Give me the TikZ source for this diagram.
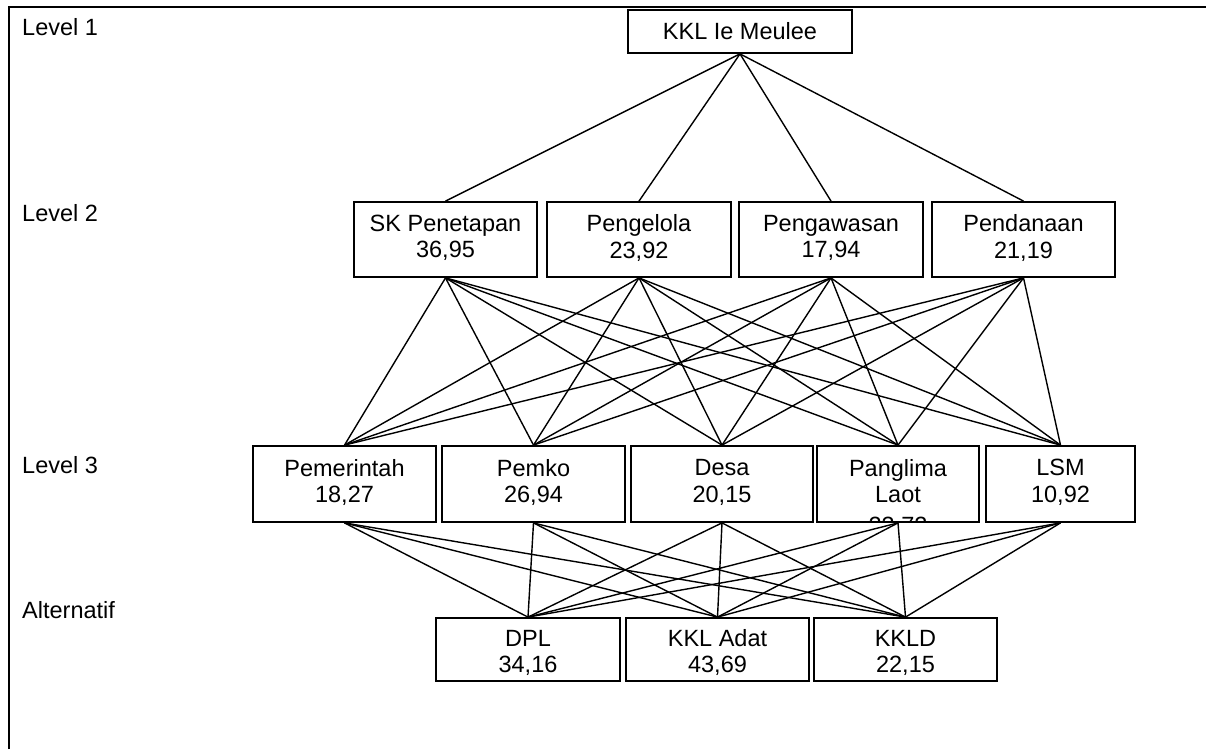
\documentclass[tikz,border=0pt]{standalone}
\usepackage{fontspec}
\setmainfont{Liberation Sans}
\newcommand\tallstrut{\rule{0pt}{23pt}}
\begin{document}
\begin{tikzpicture}[x=1pt,y=-1pt,
  txt/.style={font=\fontsize{23.5}{26.5}\selectfont},
  box/.style={txt, draw, line width=1.8pt, rectangle, inner sep=0pt, align=center},
  box2/.style={box, execute at end node={\rule[-6pt]{0pt}{6pt}}},
  lvl/.style={txt, anchor=base west, inner sep=0pt},
  link/.style={line width=1.4pt},
  frame/.style={line width=2pt}]
\useasboundingbox (0,0) rectangle (1206,749);
% frame (left and top only)
\draw[frame] (9,749) -- (9,7) -- (1206,7);
% level labels
\node[lvl] (l1) at (22,36) {Level 1};
\node[lvl] (l2) at (22,221) {Level 2};
\node[lvl] (l3) at (22,473) {Level 3};
\node[lvl] (l4) at (22,618) {Alternatif};
% level 1
\node[box, minimum width=224, minimum height=43] (top) at (740,31.5) {KKL Ie Meulee};
% level 2
\node[box2, minimum width=183, minimum height=75] (sk) at (445.5,239.5) {SK Penetapan\\36,95};
\node[box2, minimum width=184, minimum height=75] (pg) at (639,239.5) {Pengelola\\23,92};
\node[box2, minimum width=184, minimum height=75] (pw) at (831,239.5) {Pengawasan\\17,94};
\node[box2, minimum width=183, minimum height=75] (pd) at (1023.5,239.5) {Pendanaan\\21,19};
% level 3
\node[box2, minimum width=183, minimum height=76] (pm) at (344.5,484) {Pemerintah\\18,27};
\node[box2, minimum width=183, minimum height=76] (pk) at (533.5,484) {Pemko\\26,94};
\node[box2, minimum width=182, minimum height=76] (ds) at (722,484) {Desa\\20,15};
\node[box2, minimum width=162, minimum height=76] (pl) at (898,484) {Panglima\\Laot};
\node[box2, minimum width=149, minimum height=76] (ls) at (1060.5,484) {LSM\\10,92};
\begin{scope}
  \clip (pl.south west) rectangle (pl.north east);
  \node[txt, inner sep=0pt, anchor=north] (plv) at ([yshift=6pt]pl.south) {23,72};
\end{scope}
% alternatives
\node[box, minimum width=184, minimum height=63] (dpl) at (528,649.5) {\tallstrut DPL\\34,16};
\node[box, minimum width=183, minimum height=63] (adat) at (717.5,649.5) {\tallstrut KKL Adat\\43,69};
\node[box, minimum width=183, minimum height=63] (kkld) at (905.5,649.5) {\tallstrut KKLD\\22,15};
% connectors
\foreach \a in {sk,pg,pw,pd} \draw[link] (top.south) -- (\a.north);
\foreach \a in {sk,pg,pw,pd}
  \foreach \b in {pm,pk,ds,pl,ls} \draw[link] (\a.south) -- (\b.north);
\foreach \a in {pm,pk,ds,pl,ls}
  \foreach \b in {dpl,adat,kkld} \draw[link] (\a.south) -- (\b.north);
\end{tikzpicture}
\end{document}
